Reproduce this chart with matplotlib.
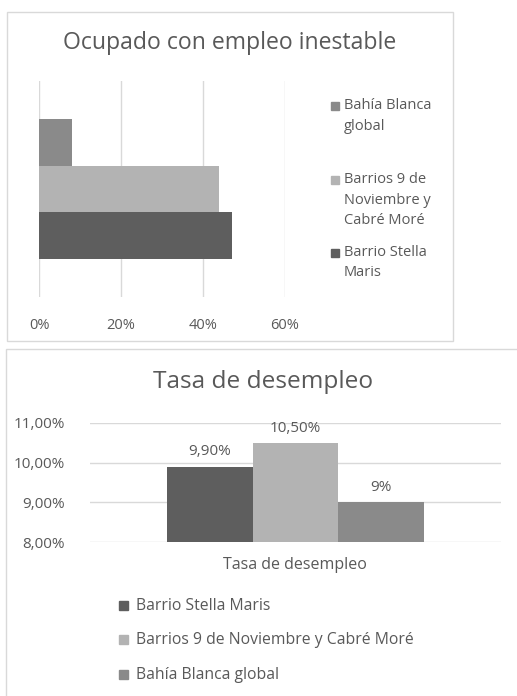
import matplotlib
matplotlib.use("Agg")
import matplotlib.pyplot as plt
from matplotlib.patches import Rectangle
from matplotlib.ticker import FuncFormatter

# ---- data ----
series = ["Barrio Stella Maris", "Barrios 9 de Noviembre y Cabré Moré", "Bahía Blanca global"]
top_legend_labels = ["Bahía Blanca\nglobal", "Barrios 9 de\nNoviembre y\nCabré Moré", "Barrio Stella\nMaris"]
colors = ["#5e5e5e", "#b3b3b3", "#8a8a8a"]
inestable = [47, 44, 8]          # % ocupado con empleo inestable
desempleo = [9.90, 10.50, 9.00]  # % tasa de desempleo
desempleo_labels = ["9,90%", "10,50%", "9%"]
top_xticks = [0, 20, 40, 60]
bot_yticks = [8, 9, 10, 11]
category = "Tasa de desempleo"

W, H = 517, 696
fig = plt.figure(figsize=(W / 100, H / 100), dpi=100)
plt.rcParams['font.family'] = ['Open Sans', 'DejaVu Sans']
TXT = "#595959"
GRID = "#d9d9d9"

def fx(x): return x / W
def fy(y): return 1 - y / H

def px_axes(x0, y0, x1, y1):
    return fig.add_axes([fx(x0), fy(y1), (x1 - x0) / W, (y1 - y0) / H])

# frames
fig.patches.append(Rectangle((fx(7), fy(341)), (453 - 7) / W, (341 - 12) / H,
                             transform=fig.transFigure, fill=False, ec="#d9d9d9", lw=1))
fig.patches.append(Rectangle((fx(6), fy(700)), (520 - 6) / W, (700 - 349) / H,
                             transform=fig.transFigure, fill=False, ec="#d9d9d9", lw=1))

# ---- top chart ----
ax1 = px_axes(39, 81, 285, 297)
pos = [-1, 0, 1]
for p, v, c in zip(pos, inestable, colors):
    ax1.barh(p, v, height=1.0, color=c, zorder=3)
ax1.set_xlim(0, 60)
ax1.set_ylim(-2.3, 2.3)
ax1.set_xticks(top_xticks)
ax1.xaxis.set_major_formatter(FuncFormatter(lambda v, _: f"{v:.0f}%"))
ax1.set_yticks([])
ax1.grid(axis="x", color=GRID, lw=1, zorder=0)
for s in ax1.spines.values():
    s.set_visible(False)
ax1.tick_params(axis="x", length=0, pad=15, labelsize=10.5, labelcolor=TXT)
fig.text(fx(230), fy(43), "Ocupado con empleo inestable", ha="center", va="center",
         fontsize=16.6, color=TXT)

# top legend (manual)
leg_first_line = [106, 180, 253]
leg_colors = [colors[2], colors[1], colors[0]]
for y, lab, c in zip(leg_first_line, top_legend_labels, leg_colors):
    fig.patches.append(Rectangle((fx(331), fy(y + 4)), 8 / W, 8 / H,
                                 transform=fig.transFigure, color=c))
    fig.text(fx(344), fy(y - 8), lab, ha="left", va="top", fontsize=10.5, color=TXT,
             linespacing=1.5)

# ---- bottom chart ----
ax2 = px_axes(90, 423, 501, 542)
for p, v, c, lab in zip(pos, desempleo, colors, desempleo_labels):
    ax2.bar(p, v - 8, bottom=8, width=1.0, color=c, zorder=3)
    ax2.text(p, v + 0.18, lab, ha="center", va="bottom", fontsize=11, color=TXT)
ax2.set_ylim(8, 11)
ax2.set_xlim(-2.4035, 2.4035)
ax2.set_yticks(bot_yticks)
ax2.yaxis.set_major_formatter(FuncFormatter(lambda v, _: f"{v:.2f}%".replace(".", ",")))
ax2.set_xticks([])
ax2.grid(axis="y", color=GRID, lw=1, zorder=0)
for s in ax2.spines.values():
    s.set_visible(False)
ax2.tick_params(axis="y", length=0, pad=18, labelsize=11, labelcolor=TXT)
fig.text(fx(295), fy(565), category, ha="center", va="center", fontsize=11.5, color=TXT)
fig.text(fx(263), fy(382), "Tasa de desempleo", ha="center", va="center",
         fontsize=17.6, color=TXT)

# bottom legend
for y, lab, c in zip([606, 640, 675], series, colors):
    fig.patches.append(Rectangle((fx(119), fy(y + 4)), 9 / W, 9 / H,
                                 transform=fig.transFigure, color=c))
    fig.text(fx(136), fy(y), lab, ha="left", va="center", fontsize=11.3, color=TXT)

fig.savefig("out.png", dpi=100)
